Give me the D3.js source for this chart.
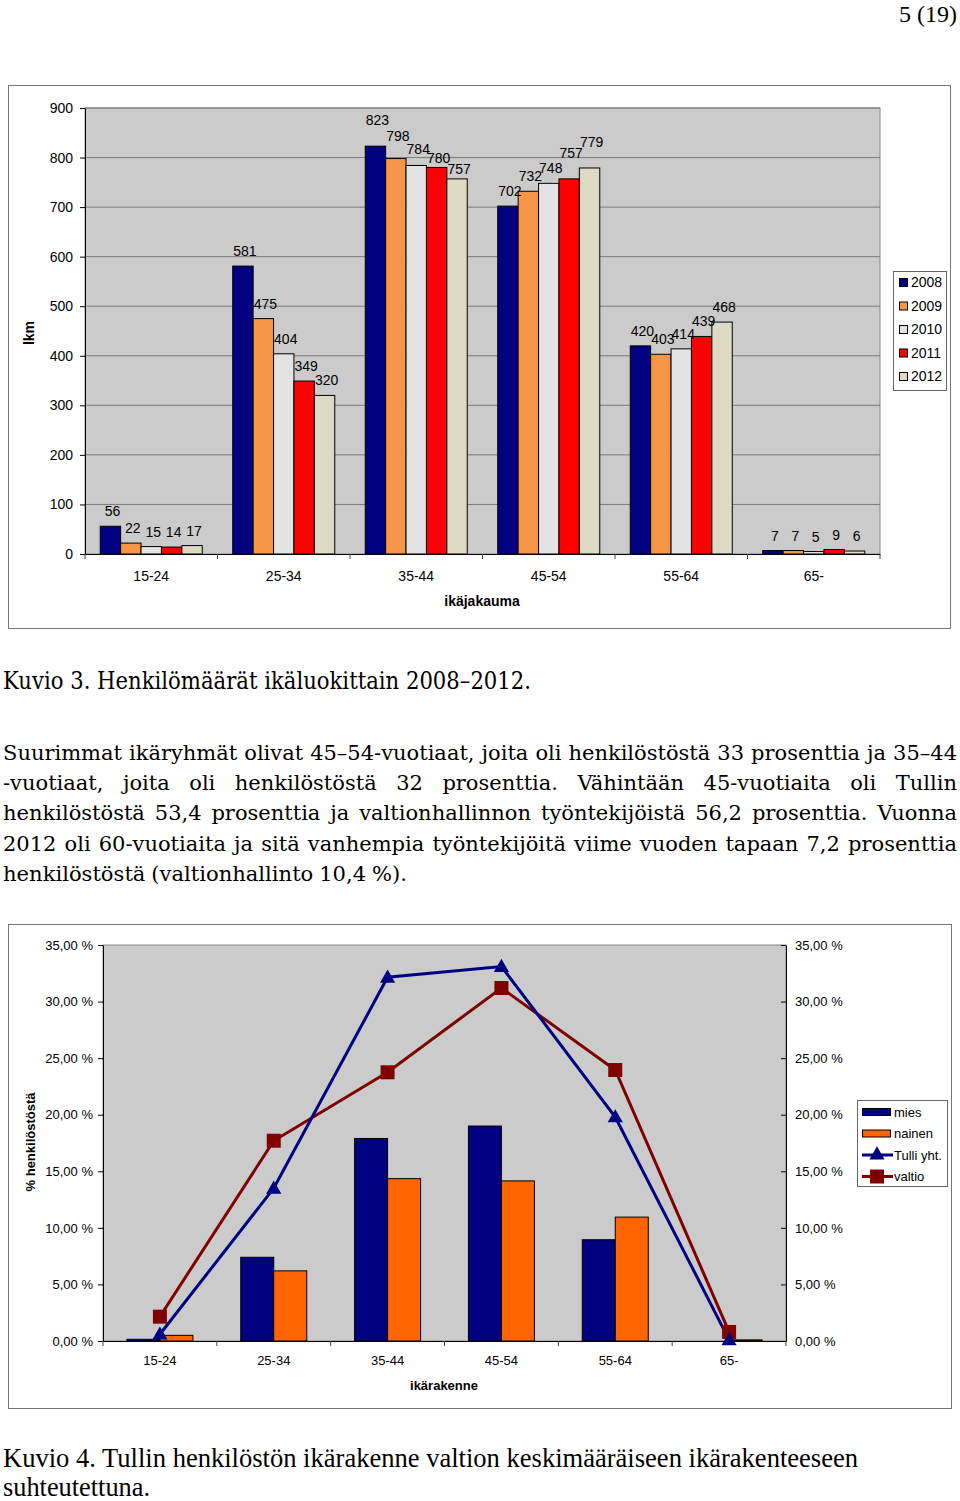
<!DOCTYPE html>
<html>
<head>
<meta charset="utf-8">
<script src="https://cdn.jsdelivr.net/npm/d3@7/dist/d3.min.js"></script>
<style>
  body { margin: 0; background: #fff; }
  svg { display: block; }
  .axis path, .axis line { stroke: #000; }
  .axis text { fill: #000; }
</style>
</head>
<body>
<svg id="page" width="960" height="1501"></svg>
<script>
// ── Data: Kuvio 3 ──
const ageGroups = ["15-24", "25-34", "35-44", "45-54", "55-64", "65-"];
const years = ["2008", "2009", "2010", "2011", "2012"];
const counts2008 = [56, 581, 823, 702, 420, 7];
const counts2009 = [22, 475, 798, 732, 403, 7];
const counts2010 = [15, 404, 784, 748, 414, 5];
const counts2011 = [14, 349, 780, 757, 439, 9];
const counts2012 = [17, 320, 757, 779, 468, 6];
const countTicks = [0, 100, 200, 300, 400, 500, 600, 700, 800, 900];

// ── Data: Kuvio 4 (% henkilöstöstä) ──
const miesPct   = [0.15, 7.4, 17.9, 19.0, 8.95, 0.0];
const nainenPct = [0.5, 6.2, 14.35, 14.15, 10.95, 0.1];
const tulliPct  = [0.6, 13.5, 32.15, 33.1, 19.8, 0.1];
const valtioPct = [2.15, 17.7, 23.75, 31.2, 23.95, 0.8];
const pctTicks = [0, 5, 10, 15, 20, 25, 30, 35];

// ── Text ──
const paragraph = [
  "Suurimmat ikäryhmät olivat 45–54-vuotiaat, joita oli henkilöstöstä 33 prosenttia ja 35–44",
  "-vuotiaat, joita oli henkilöstöstä 32 prosenttia. Vähintään 45-vuotiaita oli Tullin",
  "henkilöstöstä 53,4 prosenttia ja valtionhallinnon työntekijöistä 56,2 prosenttia. Vuonna",
  "2012 oli 60-vuotiaita ja sitä vanhempia työntekijöitä viime vuoden tapaan 7,2 prosenttia",
  "henkilöstöstä (valtionhallinto 10,4 %)."
];

// label nudges (px) where the original chart lifted overlapping labels
const labelNudge = {
  "35-44|2008": -11, "35-44|2009": -8, "35-44|2010": -1, "35-44|2011": 6, "35-44|2012": 5,
  "45-54|2011": -11, "45-54|2012": -11
};

const svg = d3.select("#page");
const sans = "'Liberation Sans', Arial, sans-serif";
const serifBody = "'DejaVu Serif', serif";
const serifTimes = "'Liberation Serif', 'Times New Roman', serif";

// page number
svg.append("text")
    .attr("x", 957).attr("y", 22)
    .attr("text-anchor", "end")
    .attr("font-family", serifTimes).attr("font-size", 24)
    .text("5 (19)");

// ─────────────────────────────────────────────
// Chart 1: Henkilömäärät ikäluokittain
// ─────────────────────────────────────────────
const c1 = svg.append("g");
c1.append("rect")
    .attr("x", 8.5).attr("y", 85.5).attr("width", 942).attr("height", 543)
    .attr("fill", "#fff").attr("stroke", "#777");

const p1 = { left: 85, right: 880, top: 108, bottom: 554 };

c1.append("rect")
    .attr("x", p1.left).attr("y", p1.top)
    .attr("width", p1.right - p1.left).attr("height", p1.bottom - p1.top)
    .attr("fill", "#cbcbcb").attr("stroke", "#888");

const x1 = d3.scaleBand().domain(ageGroups).range([p1.left, p1.right])
    .paddingInner(0.23).paddingOuter(0.115);
const xs1 = d3.scaleBand().domain(years).range([0, x1.bandwidth()]);
const y1 = d3.scaleLinear().domain([0, 900]).range([p1.bottom, p1.top]);

// gridlines
c1.append("g").selectAll("line")
    .data(countTicks.filter(d => d > 0))
    .join("line")
    .attr("x1", p1.left).attr("x2", p1.right)
    .attr("y1", d => y1(d)).attr("y2", d => y1(d))
    .attr("stroke", "#7a7a7a").attr("stroke-width", 1);

const yearColors = ["#000080", "#f79646", "#e3e3e3", "#ff0000", "#ddd9c3"];
const countSeries = [counts2008, counts2009, counts2010, counts2011, counts2012];

const barData1 = [];
countSeries.forEach((vals, si) => {
    vals.forEach((v, gi) => barData1.push({ group: ageGroups[gi], year: years[si], value: v, si }));
});

c1.append("g").selectAll("rect")
    .data(barData1)
    .join("rect")
    .attr("x", d => x1(d.group) + xs1(d.year))
    .attr("y", d => y1(d.value))
    .attr("width", xs1.bandwidth())
    .attr("height", d => y1(0) - y1(d.value))
    .attr("fill", d => yearColors[d.si])
    .attr("stroke", "#000").attr("stroke-width", 1);

c1.append("g").selectAll("text")
    .data(barData1)
    .join("text")
    .attr("x", d => x1(d.group) + xs1(d.year) + xs1.bandwidth() / 2 + 2)
    .attr("y", d => y1(d.value) - 10 + (labelNudge[d.group + "|" + d.year] || 0))
    .attr("text-anchor", "middle")
    .attr("font-family", sans).attr("font-size", 14)
    .text(d => d.value);

// y axis
const yAxis1 = c1.append("g").attr("class", "axis")
    .attr("transform", `translate(${p1.left},0)`)
    .call(d3.axisLeft(y1).tickValues(countTicks).tickSize(5).tickPadding(7).tickSizeOuter(0));
yAxis1.select(".domain").attr("stroke", "#444");
yAxis1.selectAll("text").attr("font-family", sans).attr("font-size", 14);

// x axis
const xAxis1 = c1.append("g").attr("class", "axis")
    .attr("transform", `translate(0,${p1.bottom})`)
    .call(d3.axisBottom(x1).tickSize(0).tickPadding(17).tickSizeOuter(0));
xAxis1.select(".domain").attr("stroke", "#444");
xAxis1.selectAll("text").attr("font-family", sans).attr("font-size", 14);

// boundary ticks
c1.append("g").selectAll("line")
    .data(d3.range(ageGroups.length + 1))
    .join("line")
    .attr("x1", i => p1.left + i * x1.step()).attr("x2", i => p1.left + i * x1.step())
    .attr("y1", p1.bottom).attr("y2", p1.bottom + 5)
    .attr("stroke", "#444");

c1.append("text")
    .attr("transform", "translate(34,333) rotate(-90)")
    .attr("text-anchor", "middle")
    .attr("font-family", sans).attr("font-size", 14).attr("font-weight", "bold")
    .text("lkm");

c1.append("text")
    .attr("x", 482).attr("y", 606)
    .attr("text-anchor", "middle")
    .attr("font-family", sans).attr("font-size", 14).attr("font-weight", "bold")
    .text("ikäjakauma");

// legend
const leg1 = c1.append("g");
leg1.append("rect")
    .attr("x", 893.5).attr("y", 271.5).attr("width", 53).attr("height", 119)
    .attr("fill", "#fff").attr("stroke", "#666");
const legItems1 = leg1.selectAll("g")
    .data(years)
    .join("g")
    .attr("transform", (d, i) => `translate(899,${282 + i * 23.5})`);
legItems1.append("rect")
    .attr("x", 0.5).attr("y", -3.5).attr("width", 8).attr("height", 8)
    .attr("fill", (d, i) => yearColors[i]).attr("stroke", "#000");
legItems1.append("text")
    .attr("x", 12).attr("y", 5)
    .attr("font-family", sans).attr("font-size", 14)
    .text(d => d);

// ─────────────────────────────────────────────
// Captions and paragraph
// ─────────────────────────────────────────────
svg.append("text")
    .attr("x", 3).attr("y", 689)
    .attr("font-family", serifBody).attr("font-size", 25)
    .attr("textLength", 528).attr("lengthAdjust", "spacingAndGlyphs")
    .text("Kuvio 3. Henkilömäärät ikäluokittain 2008–2012.");

function setLine(g, text, x, y, width, font, size, justify) {
    const words = text.split(" ");
    const nodes = words.map(w => g.append("text")
        .attr("y", y)
        .attr("font-family", font).attr("font-size", size)
        .text(w));
    const ws = nodes.map(n => n.node().getComputedTextLength());
    const total = d3.sum(ws);
    const minGap = size * 0.28;
    let gap = minGap;
    let k = (width - minGap * (words.length - 1)) / total;
    if (justify && k >= 1) {
        k = 1;
        gap = (width - total) / (words.length - 1);
    }
    let cx = x;
    nodes.forEach((n, i) => {
        n.attr("x", cx);
        if (k !== 1) n.attr("textLength", ws[i] * k).attr("lengthAdjust", "spacingAndGlyphs");
        cx += ws[i] * k + gap;
    });
}

const para = svg.append("g");
const paraBase = [760, 790, 820, 851, 881];
paragraph.forEach((line, i) => {
    const last = i === paragraph.length - 1;
    setLine(para, line, 3, paraBase[i], last ? 404 : 954, serifBody, 21, !last);
});

// ─────────────────────────────────────────────
// Chart 2: ikärakenne
// ─────────────────────────────────────────────
const c2 = svg.append("g");
c2.append("rect")
    .attr("x", 8.5).attr("y", 924.5).attr("width", 943).attr("height", 484)
    .attr("fill", "#fff").attr("stroke", "#777");

const p2 = { left: 103, right: 786, top: 945, bottom: 1341 };
c2.append("rect")
    .attr("x", p2.left).attr("y", p2.top)
    .attr("width", p2.right - p2.left).attr("height", p2.bottom - p2.top)
    .attr("fill", "#cbcbcb").attr("stroke", "#888");

const x2 = d3.scaleBand().domain(ageGroups).range([p2.left, p2.right])
    .paddingInner(0.42).paddingOuter(0.21);
const genders = ["mies", "nainen"];
const xs2 = d3.scaleBand().domain(genders).range([0, x2.bandwidth()]);
const y2 = d3.scaleLinear().domain([0, 35]).range([p2.bottom, p2.top]);
const genderColors = { mies: "#000080", nainen: "#ff6600" };

const barData2 = [];
ageGroups.forEach((g, i) => {
    barData2.push({ group: g, gender: "mies", value: miesPct[i] });
    barData2.push({ group: g, gender: "nainen", value: nainenPct[i] });
});

c2.append("g").selectAll("rect")
    .data(barData2.filter(d => d.value > 0))
    .join("rect")
    .attr("x", d => x2(d.group) + xs2(d.gender))
    .attr("y", d => y2(d.value))
    .attr("width", xs2.bandwidth())
    .attr("height", d => y2(0) - y2(d.value))
    .attr("fill", d => genderColors[d.gender])
    .attr("stroke", "#000").attr("stroke-width", 1);

const fmtPct = d => d3.format(".2f")(d).replace(".", ",") + " %";

const yAxis2L = c2.append("g").attr("class", "axis")
    .attr("transform", `translate(${p2.left},0)`)
    .call(d3.axisLeft(y2).tickValues(pctTicks).tickFormat(fmtPct).tickSize(5).tickPadding(5).tickSizeOuter(0));
yAxis2L.select(".domain").attr("stroke", "#444");
yAxis2L.selectAll("text").attr("font-family", sans).attr("font-size", 13);

const yAxis2R = c2.append("g").attr("class", "axis")
    .attr("transform", `translate(${p2.right},0)`)
    .call(d3.axisRight(y2).tickValues(pctTicks).tickFormat(fmtPct).tickSize(-5).tickPadding(9).tickSizeOuter(0));
yAxis2R.select(".domain").attr("stroke", "#444");
yAxis2R.selectAll("text").attr("font-family", sans).attr("font-size", 13);

const xAxis2 = c2.append("g").attr("class", "axis")
    .attr("transform", `translate(0,${p2.bottom})`)
    .call(d3.axisBottom(x2).tickSize(0).tickPadding(15).tickSizeOuter(0));
xAxis2.select(".domain").attr("stroke", "#444");
xAxis2.selectAll("text").attr("font-family", sans).attr("font-size", 13);

c2.append("g").selectAll("line")
    .data(d3.range(ageGroups.length + 1))
    .join("line")
    .attr("x1", i => p2.left + i * x2.step()).attr("x2", i => p2.left + i * x2.step())
    .attr("y1", p2.bottom).attr("y2", p2.bottom + 5)
    .attr("stroke", "#444");

// lines
const lineGen = d3.line()
    .x((d, i) => x2(ageGroups[i]) + x2.bandwidth() / 2)
    .y(d => y2(d));

c2.append("path")
    .datum(valtioPct)
    .attr("d", lineGen)
    .attr("fill", "none").attr("stroke", "#800000").attr("stroke-width", 3);
c2.append("path")
    .datum(tulliPct)
    .attr("d", lineGen)
    .attr("fill", "none").attr("stroke", "#000080").attr("stroke-width", 3);

const square = d3.symbol().type(d3.symbolSquare).size(196);
const triangle = d3.symbol().type(d3.symbolTriangle).size(100);

c2.append("g").selectAll("path")
    .data(valtioPct)
    .join("path")
    .attr("transform", (d, i) => `translate(${x2(ageGroups[i]) + x2.bandwidth() / 2},${y2(d)})`)
    .attr("d", square)
    .attr("fill", "#800000");

c2.append("g").selectAll("path")
    .data(tulliPct)
    .join("path")
    .attr("transform", (d, i) => `translate(${x2(ageGroups[i]) + x2.bandwidth() / 2},${y2(d) + 1})`)
    .attr("d", triangle)
    .attr("fill", "#000080");

c2.append("text")
    .attr("transform", "translate(35,1142) rotate(-90)")
    .attr("text-anchor", "middle")
    .attr("font-family", sans).attr("font-size", 13).attr("font-weight", "bold")
    .text("% henkilöstöstä");

c2.append("text")
    .attr("x", 444).attr("y", 1390)
    .attr("text-anchor", "middle")
    .attr("font-family", sans).attr("font-size", 13).attr("font-weight", "bold")
    .text("ikärakenne");

// legend
const legendNames2 = ["mies", "nainen", "Tulli yht.", "valtio"];
const leg2 = c2.append("g");
leg2.append("rect")
    .attr("x", 857.5).attr("y", 1100.5).attr("width", 90).attr("height", 86)
    .attr("fill", "#fff").attr("stroke", "#666");
const legItems2 = leg2.selectAll("g")
    .data(legendNames2)
    .join("g")
    .attr("transform", (d, i) => `translate(862,${1112 + i * 21.5})`);
legItems2.filter((d, i) => i < 2).append("rect")
    .attr("x", 0.5).attr("y", -3.5).attr("width", 28).attr("height", 7)
    .attr("fill", (d, i) => i === 0 ? genderColors.mies : genderColors.nainen)
    .attr("stroke", "#000");
legItems2.filter((d, i) => i >= 2).append("line")
    .attr("x1", 0).attr("x2", 31).attr("y1", 0).attr("y2", 0)
    .attr("stroke", (d, i) => i === 0 ? "#000080" : "#800000").attr("stroke-width", 3);
legItems2.filter((d, i) => i === 2).append("path")
    .attr("transform", "translate(15,0)")
    .attr("d", triangle).attr("fill", "#000080");
legItems2.filter((d, i) => i === 3).append("path")
    .attr("transform", "translate(15,0)")
    .attr("d", square).attr("fill", "#800000");
legItems2.append("text")
    .attr("x", 32).attr("y", 4.5)
    .attr("font-family", sans).attr("font-size", 13)
    .text(d => d);

// Kuvio 4 caption
svg.append("text")
    .attr("x", 3).attr("y", 1467)
    .attr("font-family", serifTimes).attr("font-size", 27)
    .attr("textLength", 855).attr("lengthAdjust", "spacingAndGlyphs")
    .text("Kuvio 4. Tullin henkilöstön ikärakenne valtion keskimääräiseen ikärakenteeseen");
svg.append("text")
    .attr("x", 3).attr("y", 1496)
    .attr("font-family", serifTimes).attr("font-size", 27)
    .attr("textLength", 147).attr("lengthAdjust", "spacingAndGlyphs")
    .text("suhteutettuna.");
</script>
</body>
</html>
